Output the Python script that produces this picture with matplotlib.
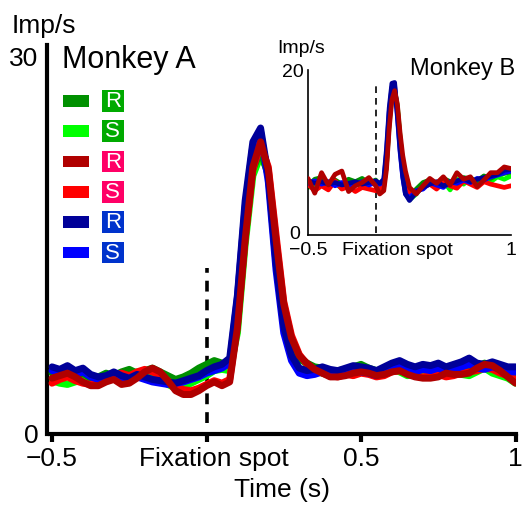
import numpy as np
import matplotlib
matplotlib.use('Agg')
import matplotlib.pyplot as plt
from matplotlib.patches import Rectangle
from matplotlib.transforms import Affine2D, ScaledTranslation

plt.rcParams['font.family'] = ['Liberation Sans', 'DejaVu Sans']

# ---- data: Monkey A (main panel), 25 ms bins ----
time_a = np.linspace(-0.5, 1.0, 61)
a_green_r = [4.8, 5.0, 4.9, 4.6, 4.8, 4.4, 4.5, 4.8, 4.6, 4.9, 5.1, 4.8, 5.0, 5.2, 4.9, 4.6, 4.3, 4.5, 4.8, 5.2,
             5.5, 5.8, 5.6, 5.4, 9.0, 16.0, 21.0, 22.5, 20.5, 14.5, 9.5, 7.0, 5.9, 5.6, 5.3, 5.2, 4.9, 5.0, 5.1, 5.3,
             5.5, 5.2, 5.0, 5.1, 5.4, 5.2, 4.9, 5.0, 5.2, 4.8, 4.9, 5.1, 5.0, 4.9, 5.2, 5.3, 5.6, 5.3, 5.1, 4.8, 4.3]
a_green_s = [4.2, 4.0, 3.9, 4.1, 4.3, 4.0, 4.2, 4.5, 4.7, 4.4, 4.6, 4.9, 4.7, 4.5, 4.3, 3.9, 3.6, 3.7, 4.0, 4.3,
             4.6, 5.0, 5.1, 5.0, 8.0, 15.0, 20.5, 22.1, 20.8, 15.0, 10.0, 7.3, 6.1, 5.5, 5.0, 4.8, 4.6, 4.7, 4.9, 5.1,
             5.0, 4.8, 4.7, 4.9, 5.1, 4.9, 4.6, 4.7, 4.8, 4.6, 4.7, 4.9, 4.8, 4.7, 4.6, 4.9, 5.2, 4.8, 4.6, 4.4, 4.0]
a_red_r = [4.4, 4.6, 4.8, 4.5, 4.1, 3.8, 3.8, 4.1, 4.3, 3.9, 4.0, 4.4, 4.9, 5.2, 4.9, 4.2, 3.4, 3.1, 3.1, 3.4,
           3.8, 4.1, 3.8, 4.1, 8.4, 15.4, 21.2, 23.2, 21.0, 15.4, 10.3, 7.6, 6.2, 5.6, 5.1, 4.8, 4.5, 4.5, 4.6, 4.8,
           4.9, 4.8, 4.6, 4.7, 4.9, 5.0, 4.7, 4.5, 4.4, 4.4, 4.5, 4.8, 4.7, 4.7, 4.8, 5.2, 5.5, 5.4, 5.0, 4.5, 4.0]
a_red_s = [4.0, 4.3, 4.5, 4.2, 4.0, 3.9, 4.1, 4.4, 4.6, 4.8, 4.6, 4.9, 5.1, 4.9, 4.6, 4.2, 3.8, 3.5, 3.4, 3.6,
           3.9, 4.2, 4.0, 4.3, 8.6, 15.5, 21.0, 23.0, 21.2, 15.8, 10.5, 7.8, 6.3, 5.5, 5.1, 4.8, 4.6, 4.5, 4.7, 4.6,
           4.8, 4.7, 4.5, 4.6, 4.9, 5.0, 4.8, 4.6, 4.5, 4.6, 4.7, 4.5, 4.6, 4.8, 4.9, 5.0, 5.2, 5.1, 4.8, 4.6, 4.3]
a_blue_r = [5.3, 5.1, 5.4, 5.0, 5.2, 4.7, 4.5, 4.6, 4.9, 4.6, 4.4, 4.7, 4.5, 4.3, 4.2, 4.1, 4.0, 4.2, 4.4, 4.6,
            5.0, 5.3, 5.5, 6.0, 11.0, 18.5, 23.2, 24.3, 20.5, 13.5, 8.5, 6.2, 5.2, 5.0, 5.1, 5.3, 5.1, 5.0, 5.2, 5.4,
            5.3, 5.2, 5.0, 5.3, 5.6, 5.8, 5.5, 5.3, 5.5, 5.4, 5.6, 5.3, 5.5, 5.7, 6.0, 5.6, 5.5, 5.7, 5.5, 5.3, 5.3]
a_blue_s = [5.0, 4.8, 5.1, 4.7, 4.9, 4.5, 4.3, 4.4, 4.6, 4.3, 4.2, 4.5, 4.3, 4.1, 4.0, 3.9, 4.0, 4.1, 4.3, 4.5,
            4.8, 5.0, 5.2, 5.6, 10.8, 18.0, 22.9, 24.0, 20.0, 13.0, 8.0, 5.8, 4.8, 4.6, 4.7, 4.9, 4.7, 4.6, 4.8, 5.0,
            4.9, 4.8, 4.6, 4.9, 5.2, 5.4, 5.1, 4.9, 5.1, 5.0, 5.2, 4.9, 5.1, 5.3, 5.5, 5.2, 5.1, 5.3, 5.1, 4.9, 4.9]

# ---- data: Monkey B (inset) ----
time_b = [-0.5, -0.45, -0.4, -0.35, -0.3, -0.25, -0.2, -0.15, -0.1, -0.05, 0.0, 0.03, 0.06, 0.08,
          0.1, 0.12, 0.14, 0.16, 0.18, 0.2, 0.22, 0.25, 0.3, 0.35, 0.4, 0.45, 0.5, 0.55, 0.6, 0.65,
          0.7, 0.75, 0.8, 0.85, 0.9, 0.95, 1.0]
b_green_r = [6.0, 6.8, 7.0, 6.4, 6.7, 6.2, 6.8, 6.5, 6.9, 6.3, 6.7, 6.1, 6.5, 9.0, 14.0, 17.5, 17.8, 15.5, 11.5,
             8.0, 5.8, 4.6, 5.6, 6.4, 6.7, 6.2, 6.9, 6.5, 6.3, 7.0, 6.8, 6.6, 7.2, 6.9, 7.4, 7.5, 7.7]
b_green_s = [5.8, 6.2, 6.9, 5.9, 6.3, 5.7, 6.0, 6.4, 5.8, 6.6, 6.2, 5.9, 6.3, 8.5, 13.5, 17.0, 17.5, 15.8, 12.0,
             8.5, 6.0, 4.3, 5.0, 6.1, 6.5, 5.9, 6.6, 5.5, 6.8, 6.2, 7.0, 6.3, 6.9, 6.5, 7.1, 6.8, 7.2]
b_red_r = [6.9, 5.1, 7.6, 6.1, 7.4, 7.8, 5.3, 6.0, 6.4, 7.0, 6.0, 5.0, 5.4, 8.0, 13.0, 16.5, 17.6, 16.0, 12.5,
           9.7, 7.8, 5.8, 5.0, 6.0, 6.9, 6.3, 7.1, 6.1, 7.6, 6.8, 7.1, 5.9, 6.7, 7.6, 7.6, 8.3, 8.1]
b_red_s = [6.2, 5.4, 6.0, 5.5, 6.6, 5.6, 5.9, 5.3, 5.8, 5.6, 5.4, 5.7, 5.9, 8.6, 13.8, 17.2, 17.4, 15.4, 11.8,
           8.8, 6.4, 5.0, 5.3, 5.8, 6.2, 5.6, 6.4, 6.0, 5.7, 6.6, 6.2, 5.8, 6.5, 6.2, 6.0, 5.8, 6.0]
b_blue_r = [6.6, 6.3, 6.5, 6.2, 6.4, 6.1, 6.3, 6.5, 6.2, 6.4, 6.6, 6.3, 6.8, 10.5, 15.5, 18.5, 18.6, 14.8, 10.5,
            7.2, 5.0, 4.2, 5.2, 5.8, 6.2, 6.5, 6.0, 6.3, 6.6, 6.9, 6.5, 6.8, 7.0, 7.2, 7.4, 7.9, 8.0]
b_blue_s = [6.3, 6.6, 6.2, 6.5, 6.0, 6.4, 6.1, 6.2, 6.5, 6.1, 6.4, 6.2, 6.6, 10.0, 15.0, 18.0, 18.2, 14.5, 10.2,
            7.0, 5.0, 4.5, 5.4, 5.6, 6.4, 6.1, 5.8, 6.5, 6.3, 6.7, 6.4, 6.9, 6.7, 7.1, 7.3, 7.6, 7.8]

fixation_onset = 0.0
cond_labels = ['R', 'S', 'R', 'S', 'R', 'S']
line_colors = ['#009000', '#00ff00', '#b00000', '#ff0000', '#000099', '#0000ff']
box_colors = ['#00aa00', '#00aa00', '#ff0066', '#ff0066', '#0033cc', '#0033cc']

W, H = 527, 507
fig = plt.figure(figsize=(W / 100, H / 100), dpi=100)
# pixel coords of the picture (origin top left)
px = Affine2D().scale(1 / W, -1 / H).translate(0, 1) + fig.transFigure

# draw order: light green, dark green, light red, light blue, dark blue, dark red on top
order = [1, 0, 3, 5, 4, 2]

# ---- main panel ----
ax = fig.add_axes([47 / W, 1 - 433.5 / H, 469 / W, (433.5 - 45) / H])
series_a = [a_green_r, a_green_s, a_red_r, a_red_s, a_blue_r, a_blue_s]
for z, i in enumerate(order):
    ax.plot(time_a, series_a[i], color=line_colors[i], lw=5, solid_joinstyle='round',
            solid_capstyle='round', zorder=2 + z)
ax.vlines(fixation_onset, 0.8, 13.2, colors='black', lw=2.6, linestyles=(0, (3, 2.2)), zorder=1)

ax.set_xlim(-0.5162, 1.0016)
ax.set_ylim(0, 30.9)
for s in ['top', 'right']:
    ax.spines[s].set_visible(False)
ax.spines['left'].set_linewidth(3)
ax.spines['bottom'].set_linewidth(3)
ax.spines['bottom'].set_bounds(-0.505, 1.0)
ax.set_xticks([-0.5, 0, 0.5, 1])
ax.set_xticklabels(['\u22120.5', 'Fixation spot', '0.5', '1'])
ax.set_yticks([0, 30])
ax.tick_params(axis='x', length=6, width=3, pad=4, labelsize=19)
ax.tick_params(axis='y', length=0, pad=6, labelsize=19)
ax.set_xlabel('Time (s)', fontsize=19, labelpad=5)
lab = ax.get_xticklabels()[1]
lab.set_transform(lab.get_transform() + ScaledTranslation(0.07, 0, fig.dpi_scale_trans))

fig.text(12, 33, 'Imp/s', transform=px, fontsize=19, va='baseline')
fig.text(62, 68, 'Monkey A', transform=px, fontsize=22, va='baseline')

# legend
for i, (c, t, bc) in enumerate(zip(line_colors, cond_labels, box_colors)):
    yc = 100.8 + i * 30.35
    fig.add_artist(Rectangle((63.3, yc - 5.8), 25.7, 11.6, transform=px, facecolor=c, edgecolor='none'))
    fig.add_artist(Rectangle((101.7, yc - 10.8), 22.3, 21.6, transform=px, facecolor=bc, edgecolor='none'))
    fig.text(112.9, yc + 0.5, t, transform=px, color='white', fontsize=16, ha='center', va='center')

# ---- inset: Monkey B ----
axi = fig.add_axes([308 / W, 1 - 235 / H, 203 / W, 165 / H])
axi.set_facecolor('none')
series_b = [b_green_r, b_green_s, b_red_r, b_red_s, b_blue_r, b_blue_s]
for z, i in enumerate(order):
    axi.plot(time_b, series_b[i], color=line_colors[i], lw=3.4, solid_joinstyle='round',
             solid_capstyle='round', zorder=2 + z)
axi.vlines(fixation_onset, 0.2, 18.3, colors='black', lw=1.2, linestyles=(0, (4, 3)), zorder=1)
axi.set_xlim(-0.5, 1.0)
axi.set_ylim(0, 20.12)
for s in ['top', 'right']:
    axi.spines[s].set_visible(False)
axi.spines['left'].set_linewidth(1.2)
axi.spines['bottom'].set_linewidth(1.2)
axi.set_xticks([-0.5, 0, 1])
axi.set_xticklabels(['\u22120.5', 'Fixation spot', '1'])
axi.set_yticks([0, 20])
axi.tick_params(axis='x', length=0, pad=5, labelsize=14)
axi.tick_params(axis='y', length=0, pad=3, labelsize=14)
labi = axi.get_xticklabels()[1]
labi.set_transform(labi.get_transform() + ScaledTranslation(0.22, 0, fig.dpi_scale_trans))
laby0 = axi.get_yticklabels()[0]
laby0.set_transform(laby0.get_transform() + ScaledTranslation(-0.04, 0.02, fig.dpi_scale_trans))

fig.text(277, 53, 'Imp/s', transform=px, fontsize=14, va='baseline')
fig.text(410, 75, 'Monkey B', transform=px, fontsize=17, va='baseline')

fig.savefig('out.png', dpi=100)
